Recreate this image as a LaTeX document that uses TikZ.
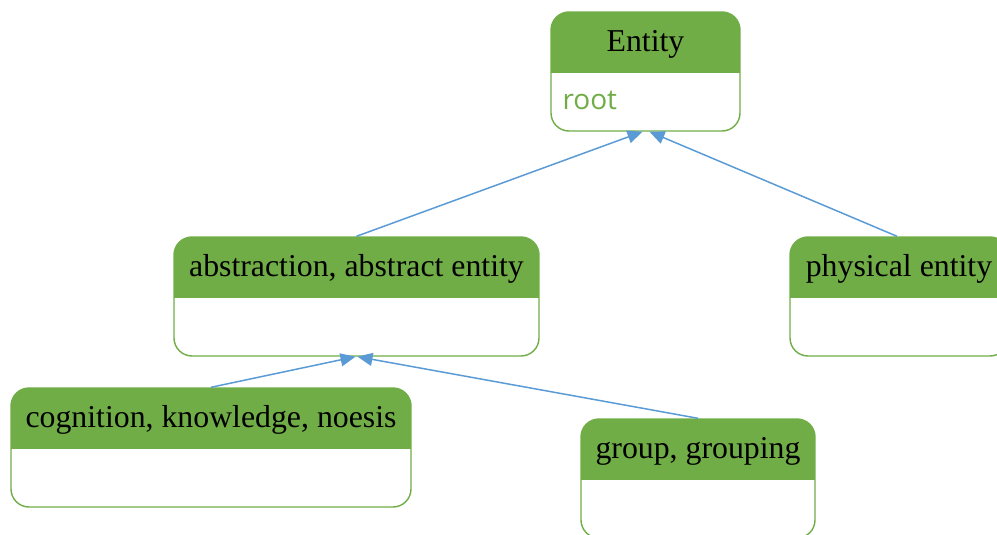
\documentclass[tikz,border=0pt]{standalone}
\usepackage{fontspec}
\setmainfont{Liberation Serif}
\newfontfamily\notefont{Open Sans}
\usetikzlibrary{arrows.meta}
\definecolor{cardgreen}{HTML}{70AD47}
\definecolor{linkblue}{HTML}{5B9BD5}
\tikzset{
  card/.style={draw=cardgreen, line width=1.4pt, rounded corners=18pt,
    fill=white, inner sep=0pt, minimum height=119pt,
    path picture={\fill[cardgreen, sharp corners] (path picture bounding box.north west)
      rectangle ([yshift=-61pt]path picture bounding box.north east);}},
  title/.style={font=\fontsize{31.8}{35}\selectfont, anchor=base, inner sep=0pt},
  note/.style={font=\notefont\fontsize{28}{31}\selectfont, text=cardgreen,
    anchor=base west, inner sep=0pt},
  link/.style={draw=linkblue, line width=1.5pt,
    -{Triangle[length=15pt,width=13pt]}},
}
\begin{document}
\begin{tikzpicture}[x=1pt,y=-1pt]
\useasboundingbox (0,0) rectangle (997,535);
\clip (0,0) rectangle (997,535);
% class cards
\node[card, minimum width=189pt] (ent) at (645.5,71.5) {};
\node[card, minimum width=365pt] (abs) at (356.5,296.5) {};
\node[card, minimum width=218pt] (phy) at (899,296.5) {};
\node[card, minimum width=400pt] (cog) at (211,447.5) {};
\node[card, minimum width=234pt] (grp) at (698,478.5) {};
% titles
\node[title] (ent-t) at ([yshift=-40pt]ent.north) {Entity};
\node[title] (abs-t) at ([yshift=-40pt]abs.north) {abstraction, abstract entity};
\node[title] (phy-t) at ([yshift=-40pt]phy.north) {physical entity};
\node[title] (cog-t) at ([yshift=-40pt]cog.north) {cognition, knowledge, noesis};
\node[title] (grp-t) at ([yshift=-40pt]grp.north) {group, grouping};
% attribute
\node[note] (ent-n) at ([xshift=12pt,yshift=-98pt]ent.north west) {root};
% generalisation links
\draw[link] ([xshift=-2pt]phy.north) -- ([xshift=4pt]ent.south);
\draw[link] (abs.north) -- ([xshift=-3pt]ent.south);
\draw[link] (cog.north) -- ([xshift=-1pt]abs.south);
\draw[link] (grp.north) -- ([xshift=1pt]abs.south);
\end{tikzpicture}
\end{document}
